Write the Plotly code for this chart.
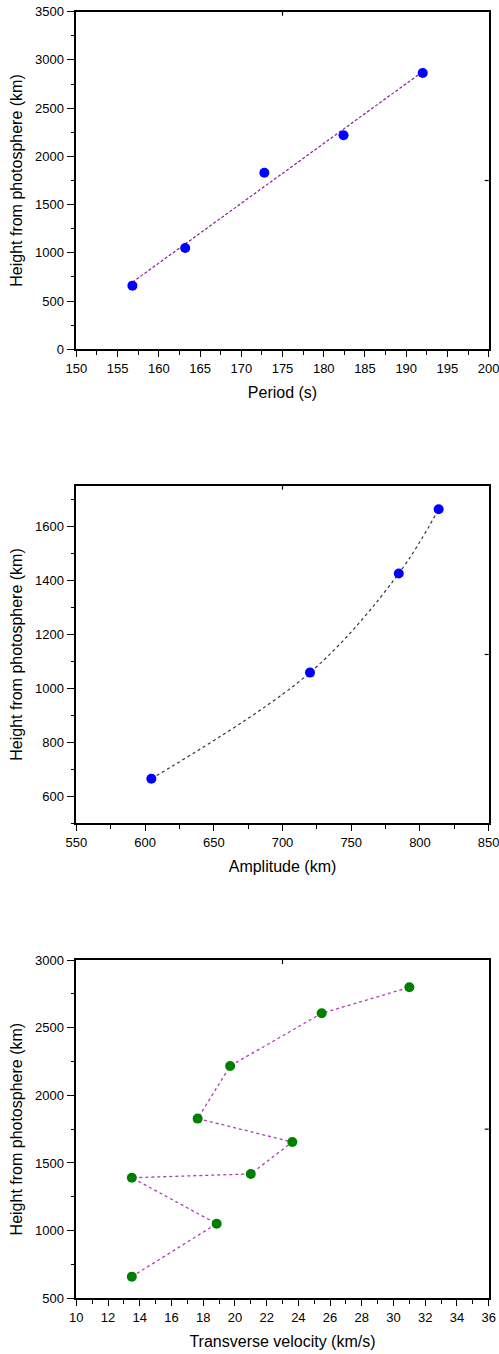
import plotly.graph_objects as go

# Panel 1: Period vs height
period_s = [156.8, 163.2, 172.8, 182.4, 192.0]
height_p1 = [660, 1050, 1830, 2220, 2865]
fit_period = [156.8, 192.0]
fit_height = [695, 2878]

# Panel 2: Amplitude vs height
amplitude_km = [604.6, 720.0, 784.6, 813.6]
height_p2 = [665, 1058, 1425, 1663]

# Panel 3: Transverse velocity vs height
velocity_kms = [13.5, 18.85, 13.5, 21.0, 23.62, 17.65, 19.7, 25.47, 31.0]
height_p3 = [660, 1051, 1391, 1419, 1655, 1828, 2217, 2606, 2798]

W, H = 499, 1354
xd = [76.3 / W, 488.7 / W]
def yd(top, bot):
    return [(H - bot) / H, (H - top) / H]

FONT = "Arial, Liberation Sans, sans-serif"

fig = go.Figure()
fig.add_trace(go.Scatter(x=fit_period, y=fit_height, mode="lines",
                         line=dict(color="#8B1A9B", width=1.2, dash="3px,2px"),
                         xaxis="x", yaxis="y", showlegend=False))
fig.add_trace(go.Scatter(x=period_s, y=height_p1, mode="markers",
                         marker=dict(color="#0000FF", size=10),
                         xaxis="x", yaxis="y", showlegend=False))
fig.add_trace(go.Scatter(x=amplitude_km, y=height_p2, mode="lines+markers",
                         line=dict(color="#333333", width=1.2, dash="dot", shape="spline"),
                         marker=dict(color="#0000FF", size=10),
                         xaxis="x2", yaxis="y2", showlegend=False))
fig.add_trace(go.Scatter(x=velocity_kms, y=height_p3, mode="lines+markers",
                         line=dict(color="#B03CB8", width=1.3, dash="dot"),
                         marker=dict(color="#008000", size=10),
                         xaxis="x3", yaxis="y3", showlegend=False))

def ax(title, rng, dtick, minor, domain, anchor, ticklen, standoff):
    return dict(
        title=dict(text=title, font=dict(size=16, color="black", family=FONT), standoff=standoff),
        range=rng, dtick=dtick, tick0=0, domain=domain, anchor=anchor,
        automargin=False, ticklabeloverflow="allow",
        showgrid=False, zeroline=False, showline=True, linecolor="black", linewidth=1.5,
        mirror=True, ticks="outside", ticklen=ticklen, tickwidth=1, tickcolor="black",
        tickfont=dict(size=13, color="black", family=FONT),
        minor=dict(dtick=minor, ticks="outside", ticklen=4, tickcolor="black", tickwidth=1, showgrid=False),
    )

layout = dict(
    width=W, height=H, margin=dict(l=0, r=0, t=0, b=0),
    paper_bgcolor="white", plot_bgcolor="white", showlegend=False,
    font=dict(family=FONT, color="black"),
    xaxis=ax("Period (s)", [150, 200], 5, 2.5, xd, "y", 6, 12),
    yaxis=ax("Height from photosphere (km)", [0, 3500], 500, 250, yd(11.7, 349.3), "x", 8, 8),
    xaxis2=ax("Amplitude (km)", [550, 850], 50, 25, xd, "y2", 6, 12),
    yaxis2=ax("Height from photosphere (km)", [500, 1750], 200, 100, yd(485.7, 823.3), "x2", 8, 8),
    xaxis3=ax("Transverse velocity (km/s)", [10, 36], 2, 1, xd, "y3", 6, 12),
    yaxis3=ax("Height from photosphere (km)", [500, 3000], 500, 250, yd(960, 1298.3), "x3", 8, 8),
)

# small inward mid-axis ticks on top and right frames (as in the original)
shapes = []
for xa, ya in [("x", "y"), ("x2", "y2"), ("x3", "y3")]:
    shapes.append(dict(type="line", xref=f"{xa} domain", yref=f"{ya} domain",
                       x0=0.5, x1=0.5, y0=1, y1=1 - 4 / 337.6,
                       line=dict(color="black", width=1.2)))
    shapes.append(dict(type="line", xref=f"{xa} domain", yref=f"{ya} domain",
                       x0=1, x1=1 - 4 / 412.4, y0=0.5, y1=0.5,
                       line=dict(color="black", width=1.2)))
layout["shapes"] = shapes

fig.update_layout(**layout)
fig.write_html("out.html", config={"displayModeBar": False},
               post_script="document.body.style.margin='0';document.body.style.overflow='hidden';")
